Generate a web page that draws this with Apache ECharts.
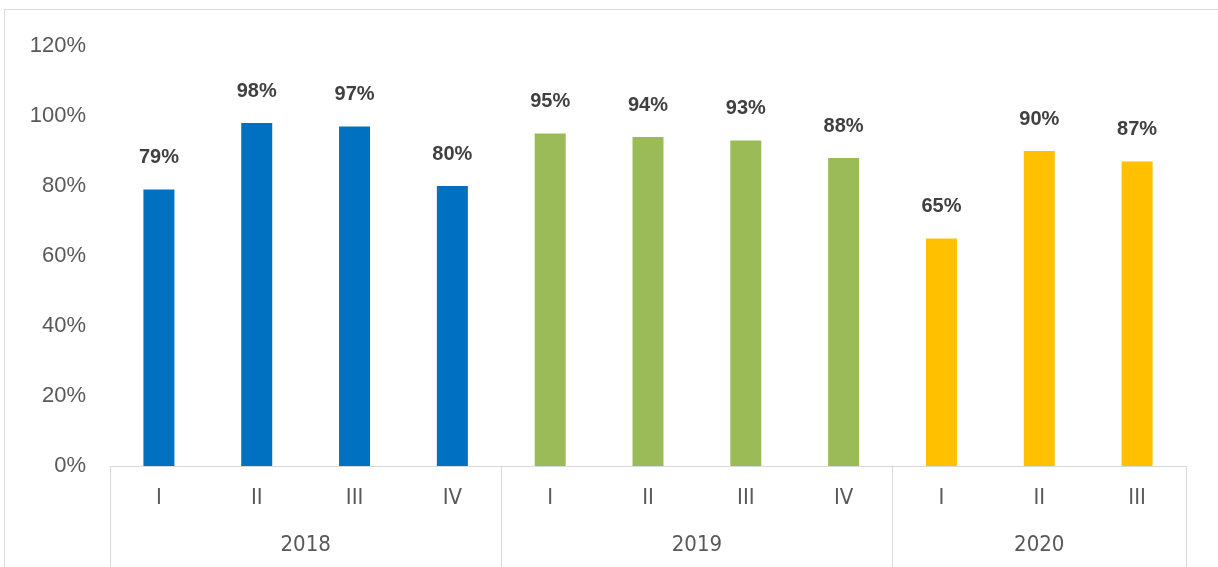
<!DOCTYPE html>
<html>
<head>
<meta charset="utf-8">
<script src="https://cdn.jsdelivr.net/npm/echarts@6/dist/echarts.min.js"></script>
<style>
    body { margin: 0; background: #fff; overflow: hidden; }
    #frame { position: absolute; left: 4px; top: 9px; width: 1230px; height: 600px; border: 1px solid #d9d9d9; }
    #main { position: absolute; left: 0; top: 0; width: 1218px; height: 567px; }
</style>
</head>
<body>
<div id="frame"></div>
<div id="main"></div>
<script>
// 数据
var quarters = ['I', 'II', 'III', 'IV', 'I', 'II', 'III', 'IV', 'I', 'II', 'III'];
var yearOfBar = [0, 0, 0, 0, 1, 1, 1, 1, 2, 2, 2];
var values = [0.79, 0.98, 0.97, 0.80, 0.95, 0.94, 0.93, 0.88, 0.65, 0.90, 0.87];
var years = ['2018', '2019', '2020'];
var yearColors = ['#0070c0', '#9bbb59', '#ffc000'];
var yTicks = [0, 0.2, 0.4, 0.6, 0.8, 1.0, 1.2];

// 年份分组的边界和中心（按柱子个数算）
var yearBounds = [0];
var yearCenters = [];
for (var i = 0; i < years.length; i++) {
    var n = 0;
    for (var j = 0; j < yearOfBar.length; j++) {
        if (yearOfBar[j] == i) n++;
    }
    var start = yearBounds[yearBounds.length - 1];
    yearCenters.push(start + n / 2);
    yearBounds.push(start + n);
}

var barData = [];
for (var k = 0; k < values.length; k++) {
    barData.push({value: values[k], itemStyle: {color: yearColors[yearOfBar[k]]}});
}

var chart = echarts.init(document.getElementById('main'));

var option = {
    animation: false,
    grid: {
        left: 110,
        right: 32,
        top: 46,
        bottom: 101,
        outerBoundsMode: 'none'
    },
    xAxis: [
        {
            type: 'category',
            data: quarters,
            position: 'bottom',
            axisLine: {show: true, lineStyle: {color: '#d9d9d9', width: 1}},
            axisTick: {show: false},
            axisLabel: {
                color: '#595959',
                fontSize: 22,
                fontFamily: '"Liberation Sans Narrow", "DejaVu Sans Condensed", sans-serif',
                margin: 21
            }
        },
        {
            type: 'value',
            position: 'bottom',
            min: 0,
            max: quarters.length,
            splitLine: {show: false},
            axisLine: {show: false},
            axisTick: {
                show: true,
                customValues: yearBounds,
                length: 102,
                lineStyle: {color: '#d9d9d9', width: 1}
            },
            axisLabel: {
                customValues: yearCenters,
                color: '#595959',
                fontSize: 22,
                fontFamily: '"Liberation Sans Narrow", "DejaVu Sans Condensed", sans-serif',
                margin: 68,
                formatter: function (v) {
                    for (var i = 0; i < yearCenters.length; i++) {
                        if (Math.abs(yearCenters[i] - v) < 0.01) return years[i];
                    }
                    return '';
                }
            }
        }
    ],
    yAxis: {
        type: 'value',
        min: yTicks[0],
        max: yTicks[yTicks.length - 1],
        interval: yTicks[1] - yTicks[0],
        splitLine: {show: false},
        axisLine: {show: false},
        axisTick: {show: false},
        axisLabel: {
            color: '#595959',
            fontSize: 22,
            fontFamily: '"Liberation Sans", Arial, sans-serif',
            margin: 24,
            formatter: function (v) {
                return Math.round(v * 100) + '%';
            }
        }
    },
    series: [
        {
            type: 'bar',
            xAxisIndex: 0,
            barWidth: 31,
            data: barData,
            label: {
                show: true,
                position: 'top',
                distance: 22,
                color: '#404040',
                fontSize: 20,
                fontWeight: 'bold',
                fontFamily: '"Liberation Sans", Arial, sans-serif',
                formatter: function (p) {
                    return Math.round(p.value * 100) + '%';
                }
            }
        }
    ]
};
chart.setOption(option);
</script>
</body>
</html>
